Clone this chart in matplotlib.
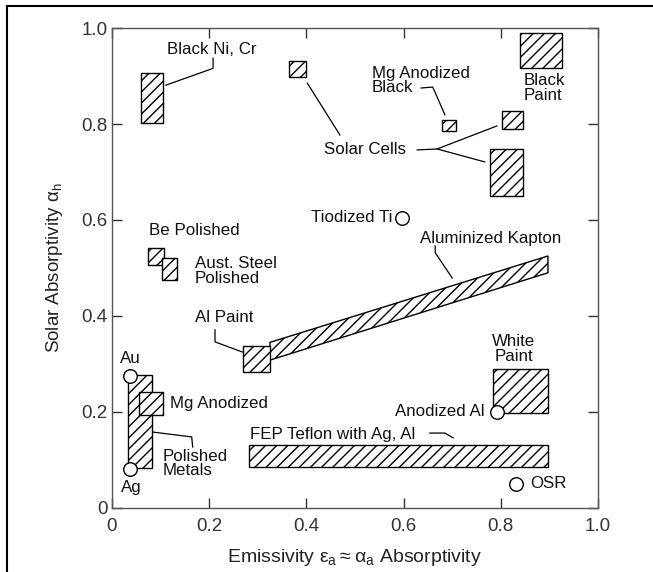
import numpy as np
import matplotlib
matplotlib.use("Agg")
import matplotlib.pyplot as plt
from matplotlib.patches import Rectangle, Polygon
from matplotlib.lines import Line2D

plt.rcParams['font.family'] = ['Liberation Sans', 'DejaVu Sans']
plt.rcParams['mathtext.fontset'] = 'dejavusans'
plt.rcParams['hatch.linewidth'] = 1.0

# hatched ranges (emissivity x0..x1, absorptivity y0..y1)
rect_names = ['Black Ni, Cr', 'Solar Cells 1', 'Mg Anodized Black', 'Solar Cells 2',
              'Solar Cells 3', 'Black Paint', 'Be Polished', 'Aust. Steel',
              'Al Paint', 'Polished Metals', 'Mg Anodized', 'White Paint', 'FEP Teflon']
rect_x0 = [0.060, 0.365, 0.678, 0.802, 0.778, 0.840, 0.074, 0.103, 0.270, 0.032, 0.056, 0.784, 0.282]
rect_x1 = [0.105, 0.400, 0.708, 0.846, 0.846, 0.926, 0.107, 0.134, 0.325, 0.083, 0.105, 0.897, 0.897]
rect_y0 = [0.803, 0.897, 0.785, 0.790, 0.650, 0.917, 0.506, 0.475, 0.283, 0.084, 0.194, 0.198, 0.085]
rect_y1 = [0.907, 0.932, 0.808, 0.827, 0.748, 0.990, 0.542, 0.521, 0.338, 0.277, 0.242, 0.290, 0.131]

# aluminized kapton band
kapton_x = [0.325, 0.325, 0.897, 0.897]
kapton_y = [0.308, 0.345, 0.525, 0.490]

# single-point materials
point_names = ['Tiodized Ti', 'Au', 'Ag', 'Anodized Al', 'OSR']
point_x = [0.597, 0.037, 0.037, 0.792, 0.831]
point_y = [0.605, 0.274, 0.081, 0.200, 0.050]

ticks = [0, 0.2, 0.4, 0.6, 0.8, 1.0]
tick_labels = ['0', '0.2', '0.4', '0.6', '0.8', '1.0']

fig = plt.figure(figsize=(6.53, 5.72), dpi=100)
ax = fig.add_axes([0.1715, 0.112, 0.7443, 0.839])
ax.set_xlim(0, 1)
ax.set_ylim(0, 1)

for x0, x1, y0, y1 in zip(rect_x0, rect_x1, rect_y0, rect_y1):
    ax.add_patch(Rectangle((x0, y0), x1 - x0, y1 - y0, facecolor='white',
                           edgecolor='black', hatch='///', lw=1.0, zorder=3))
ax.add_patch(Polygon(np.column_stack([kapton_x, kapton_y]), closed=True, facecolor='white',
                     edgecolor='black', hatch='///', lw=1.0, zorder=2))
ax.scatter(point_x, point_y, s=95, facecolor='white', edgecolor='black', lw=1.0, zorder=4)

fs = 12.2
txt = dict(fontsize=fs, color='#111111')

def leader(xs, ys):
    ax.plot(xs, ys, color='black', lw=0.9, zorder=1)

ax.text(0.205, 0.955, 'Black Ni, Cr', ha='center', va='center', **txt)
leader([0.111, 0.208, 0.208], [0.881, 0.916, 0.937])

ax.text(0.52, 0.746, 'Solar Cells', ha='center', va='center', **txt)
leader([0.402, 0.469], [0.885, 0.777])
leader([0.628, 0.669, 0.792], [0.746, 0.748, 0.796])
leader([0.669, 0.767], [0.748, 0.721])

ax.text(0.535, 0.891, 'Mg Anodized\nBlack', ha='left', va='center', linespacing=0.95, **txt)
leader([0.636, 0.660, 0.685], [0.875, 0.877, 0.819])

ax.text(0.846, 0.875, 'Black\nPaint', ha='left', va='center', linespacing=0.95, **txt)

ax.text(0.578, 0.605, 'Tiodized Ti', ha='right', va='center', **txt)

ax.text(0.78, 0.562, 'Aluminized Kapton', ha='center', va='center', **txt)
leader([0.665, 0.665, 0.700], [0.546, 0.532, 0.479])

ax.text(0.169, 0.579, 'Be Polished', ha='center', va='center', **txt)
ax.text(0.171, 0.494, 'Aust. Steel\nPolished', ha='left', va='center', linespacing=0.95, **txt)

ax.text(0.23, 0.396, 'Al Paint', ha='center', va='center', **txt)
leader([0.212, 0.212, 0.268], [0.371, 0.346, 0.325])

ax.text(0.038, 0.312, 'Au', ha='center', va='center', **txt)
ax.text(0.040, 0.042, 'Ag', ha='center', va='center', **txt)

ax.text(0.119, 0.217, 'Mg Anodized', ha='left', va='center', **txt)

ax.text(0.105, 0.092, 'Polished\nMetals', ha='left', va='center', linespacing=0.95, **txt)
leader([0.085, 0.164, 0.166], [0.158, 0.148, 0.127])

ax.text(0.284, 0.154, 'FEP Teflon with Ag, Al', ha='left', va='center', **txt)
leader([0.654, 0.685, 0.702], [0.156, 0.156, 0.146])

ax.text(0.826, 0.331, 'White\nPaint', ha='center', va='center', linespacing=0.95, **txt)
ax.text(0.767, 0.200, 'Anodized Al', ha='right', va='center', **txt)
ax.text(0.86, 0.050, 'OSR', ha='left', va='center', **txt)

ax.set_xticks(ticks)
ax.set_xticklabels(tick_labels)
ax.set_yticks(ticks)
ax.set_yticklabels(tick_labels)
ax.tick_params(direction='in', length=7, width=1.0, top=True, right=True,
               labelsize=13.5, labelcolor='#333333', color='#333333', pad=7)
ax.tick_params(axis='y', pad=3)
for sp in ax.spines.values():
    sp.set_color('#555555')
    sp.set_linewidth(1.0)

ax.set_xlabel(r'Emissivity $\mathregular{\varepsilon_a \approx \alpha_a}$ Absorptivity',
              fontsize=14, color='#222222', labelpad=9)
ax.set_ylabel(r'Solar Absorptivity $\mathregular{\alpha_h}$', fontsize=13.5,
              color='#222222', labelpad=12)

# outer frame (top and left edges)
fig.add_artist(Line2D([7 / 653, 1.0], [1 - 6 / 572, 1 - 6 / 572], color='black', lw=1.5,
                      transform=fig.transFigure))
fig.add_artist(Line2D([7 / 653, 7 / 653], [0, 1 - 6 / 572], color='black', lw=1.5,
                      transform=fig.transFigure))

fig.savefig('out.png', dpi=100)
